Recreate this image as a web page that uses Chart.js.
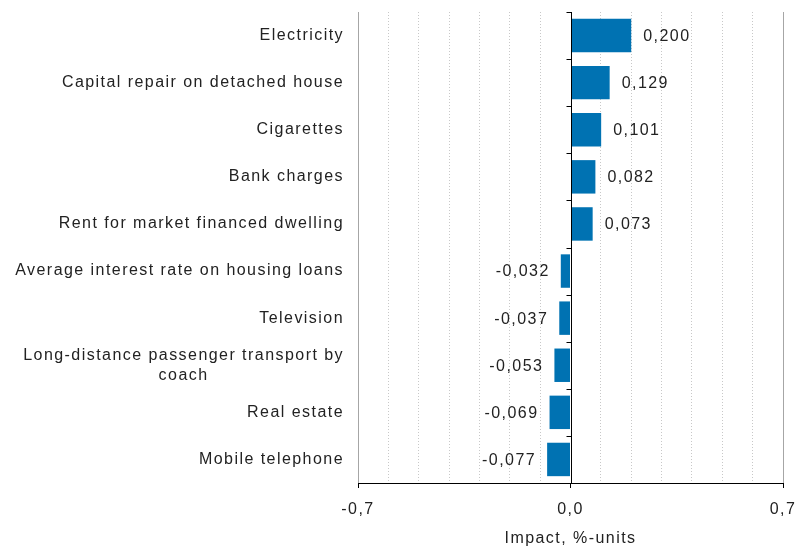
<!DOCTYPE html>
<html>
<head>
<meta charset="utf-8">
<script src="https://cdn.jsdelivr.net/npm/chart.js@4/dist/chart.umd.min.js"></script>
<style>
html,body{margin:0;padding:0;background:#fff;}
#wrap{width:798px;height:552px;position:relative;}
</style>
</head>
<body>
<div id="wrap"><canvas id="c" width="798" height="552"></canvas></div>
<script>
const categories = [
  "Electricity",
  "Capital repair on detached house",
  "Cigarettes",
  "Bank charges",
  "Rent for market financed dwelling",
  "Average interest rate on housing loans",
  "Television",
  ["Long-distance passenger transport by", "coach"],
  "Real estate",
  "Mobile telephone"
];
const impactValues = [0.200, 0.129, 0.101, 0.082, 0.073, -0.032, -0.037, -0.053, -0.069, -0.077];
const xTickLabels = [-0.7, 0.0, 0.7];
const axisTitle = "Impact, %-units";

const FONT = "'Liberation Sans', Arial, sans-serif";
const FS = 16;
const LS = '1.45px';
const TEXT = '#222';
const fmt = (v, d) => v.toFixed(d).replace('.', ',');
const isLabeled = v => xTickLabels.some(t => Math.abs(t - v) < 1e-9);

const spacingPlugin = {
  id: 'spacing',
  beforeInit(chart) { chart.ctx.letterSpacing = LS; },
  beforeUpdate(chart) { chart.ctx.letterSpacing = LS; },
  beforeDraw(chart) { chart.ctx.letterSpacing = LS; }
};

const decorPlugin = {
  id: 'decor',
  beforeDatasetsDraw(chart) {
    const ctx = chart.ctx, x = chart.scales.x, a = chart.chartArea;
    ctx.save();
    ctx.strokeStyle = '#a6a6a6';
    ctx.lineWidth = 1;
    [x.min, x.max].forEach(v => {
      const px = Math.round(x.getPixelForValue(v)) + 0.5;
      ctx.beginPath(); ctx.moveTo(px, a.top); ctx.lineTo(px, a.bottom); ctx.stroke();
    });
    ctx.restore();
  },
  afterDatasetsDraw(chart) {
    const ctx = chart.ctx, x = chart.scales.x, y = chart.scales.y, a = chart.chartArea;
    ctx.save();
    ctx.letterSpacing = LS;
    const zx = Math.round(x.getPixelForValue(0)) + 0.5;
    ctx.strokeStyle = '#000';
    ctx.lineWidth = 1;
    ctx.beginPath(); ctx.moveTo(zx, a.top); ctx.lineTo(zx, a.bottom); ctx.stroke();
    for (let i = 0; i <= categories.length; i++) {
      const py = Math.round(y.getPixelForValue(i - 0.5)) + 0.5;
      ctx.beginPath(); ctx.moveTo(zx - 5, py); ctx.lineTo(zx, py); ctx.stroke();
    }
    ctx.font = FS + 'px ' + FONT;
    ctx.fillStyle = TEXT;
    ctx.textBaseline = 'middle';
    const meta = chart.getDatasetMeta(0);
    meta.data.forEach((bar, i) => {
      const v = impactValues[i];
      const txt = fmt(v, 3);
      if (v >= 0) { ctx.textAlign = 'left'; ctx.fillText(txt, bar.x + 12, bar.y + 1); }
      else { ctx.textAlign = 'right'; ctx.fillText(txt, bar.x - 11, bar.y + 1); }
    });
    const right = a.left - 14;
    categories.forEach((lab, i) => {
      const lines = Array.isArray(lab) ? lab : [lab];
      const cy = y.getPixelForValue(i);
      const lh = 20;
      const maxW = Math.max(...lines.map(l => ctx.measureText(l).width));
      lines.forEach((l, j) => {
        const ly = cy + (j - (lines.length - 1) / 2) * lh;
        if (lines.length === 1) { ctx.textAlign = 'right'; ctx.fillText(l, right, ly); }
        else { ctx.textAlign = 'center'; ctx.fillText(l, right - maxW / 2, ly); }
      });
    });
    ctx.restore();
  }
};

new Chart(document.getElementById('c'), {
  type: 'bar',
  data: {
    labels: categories,
    datasets: [{
      data: impactValues,
      backgroundColor: '#0072b2',
      borderWidth: 0,
      barPercentage: 0.71,
      categoryPercentage: 1.0
    }]
  },
  options: {
    indexAxis: 'y',
    responsive: false,
    animation: false,
    devicePixelRatio: 1,
    layout: { padding: { top: 12, right: 0, left: 0, bottom: 0 } },
    plugins: { legend: { display: false }, tooltip: { enabled: false } },
    scales: {
      x: {
        type: 'linear',
        min: -0.7, max: 0.7,
        afterBuildTicks: s => {
          const t = [];
          for (let k = -7; k <= 7; k++) t.push({ value: k / 10 });
          s.ticks = t;
        },
        ticks: {
          autoSkip: false,
          maxRotation: 0,
          padding: 12,
          color: TEXT,
          font: { family: FONT, size: FS },
          callback: v => isLabeled(v) ? fmt(v, 1) : ''
        },
        grid: {
          color: ctx => {
            const v = ctx.tick ? ctx.tick.value : 0;
            if (isLabeled(v)) return 'rgba(0,0,0,0)';
            return '#c8c8c8';
          },
          lineWidth: 1,
          drawTicks: true,
          tickLength: 5,
          tickColor: ctx => (ctx.tick && isLabeled(ctx.tick.value)) ? '#000' : 'rgba(0,0,0,0)',
          tickBorderDash: []
        },
        border: { display: true, color: '#000', width: 1, dash: [1, 2] },
        title: {
          display: true,
          text: axisTitle,
          color: TEXT,
          font: { family: FONT, size: FS },
          padding: { top: 4, bottom: 4 }
        },
        afterFit: s => { s.height = 69; s.paddingRight = 15; }
      },
      y: {
        type: 'category',
        offset: true,
        ticks: { display: false },
        grid: { display: false },
        border: { display: false },
        afterFit: s => { s.width = 358; }
      }
    }
  },
  plugins: [spacingPlugin, decorPlugin]
});
</script>
</body>
</html>
